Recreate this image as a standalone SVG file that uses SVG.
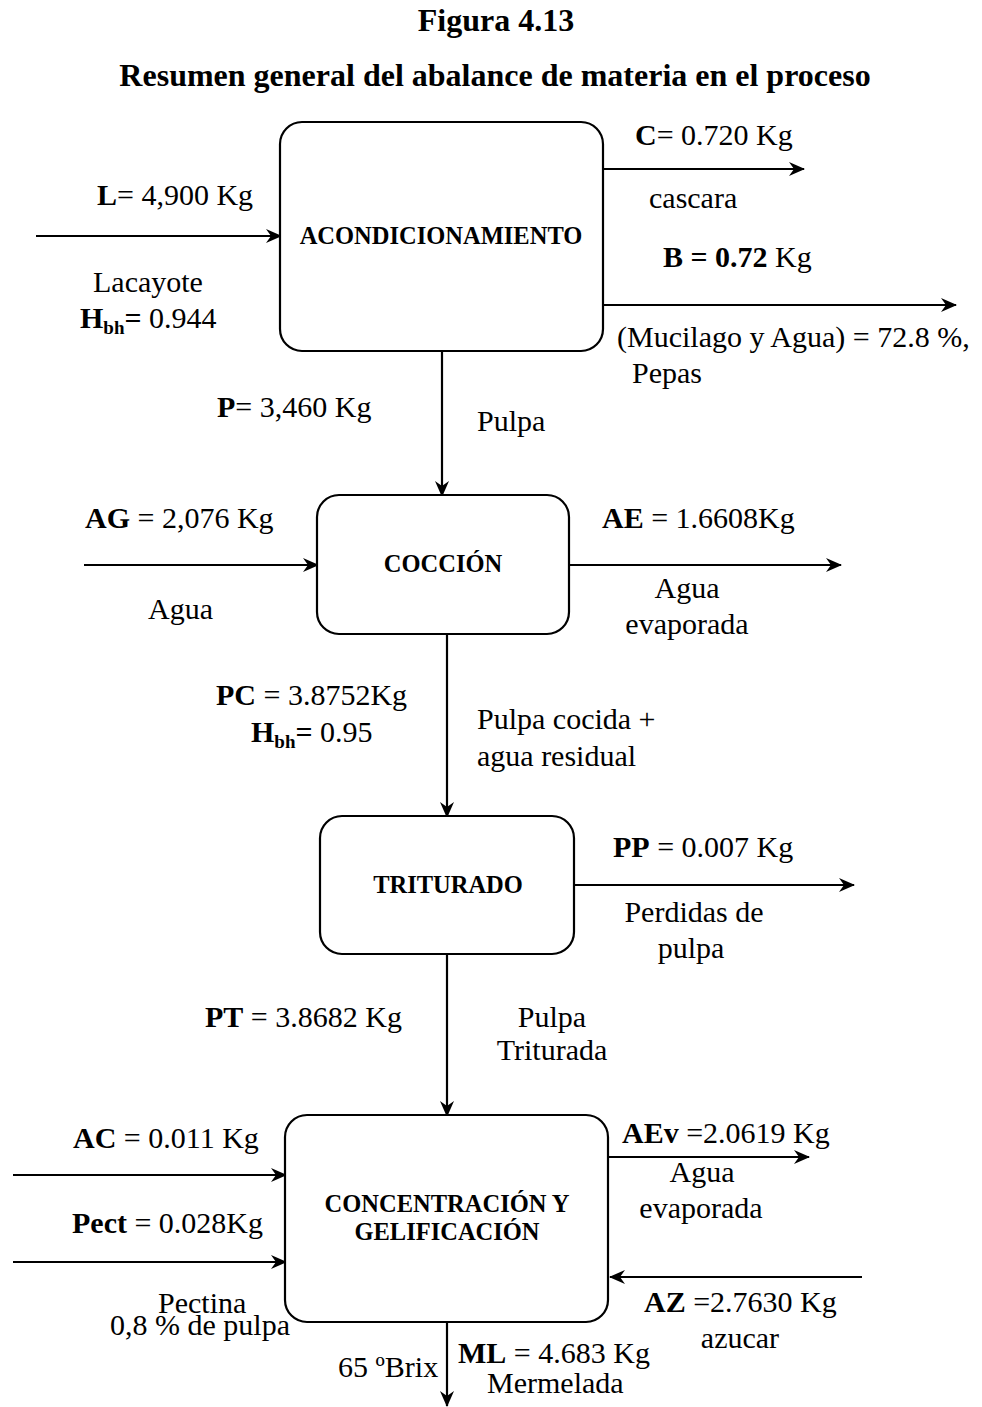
<svg xmlns="http://www.w3.org/2000/svg" width="982" height="1407" viewBox="0 0 982 1407">
<defs>
<marker id="ah" markerUnits="userSpaceOnUse" markerWidth="16" markerHeight="14" refX="15" refY="7" orient="auto">
<path d="M0,0 L16,7 L0,14 L5,7 z" fill="#000"/>
</marker>
<style>
text{font-family:"Liberation Serif","Times New Roman",serif;fill:#000;font-size:30px}
.b{font-weight:bold}
.t{font-weight:bold;font-size:32px}
.box{fill:#fff;stroke:#000;stroke-width:2.2}
.lbl{font-weight:bold;font-size:24.5px;text-anchor:middle}
.c{stroke:#000;stroke-width:2.2;fill:none;marker-end:url(#ah)}
.sub{font-size:19px;font-weight:bold}
</style>
</defs>
<rect width="982" height="1407" fill="#fff"/>
<g id="title">
<text class="t" x="496" y="31" text-anchor="middle">Figura 4.13</text>
<text class="t" x="495" y="86" text-anchor="middle">Resumen general del abalance de materia en el proceso</text>
</g>
<g id="connectors">
<line class="c" x1="36" y1="236" x2="281" y2="236"/>
<line class="c" x1="603" y1="169" x2="804" y2="169"/>
<line class="c" x1="603" y1="305" x2="956" y2="305"/>
<line class="c" x1="442" y1="351" x2="442" y2="496"/>
<line class="c" x1="84" y1="565" x2="318" y2="565"/>
<line class="c" x1="569" y1="565" x2="841" y2="565"/>
<line class="c" x1="447" y1="634" x2="447" y2="817"/>
<line class="c" x1="574" y1="885" x2="854" y2="885"/>
<line class="c" x1="447" y1="954" x2="447" y2="1116"/>
<line class="c" x1="13" y1="1175" x2="286" y2="1175"/>
<line class="c" x1="13" y1="1262" x2="286" y2="1262"/>
<line class="c" x1="608" y1="1157" x2="809" y2="1157"/>
<line class="c" x1="862" y1="1277" x2="610" y2="1277"/>
<line class="c" x1="447" y1="1322" x2="447" y2="1406"/>
</g>
<g id="acondicionamiento">
<rect class="box" x="280" y="122" width="323" height="229" rx="22"/>
<text class="lbl" x="441" y="244">ACONDICIONAMIENTO</text>
</g>
<g id="coccion">
<rect class="box" x="317" y="495" width="252" height="139" rx="22"/>
<text class="lbl" x="443" y="572">COCCIÓN</text>
</g>
<g id="triturado">
<rect class="box" x="320" y="816" width="254" height="138" rx="22"/>
<text class="lbl" x="448" y="893">TRITURADO</text>
</g>
<g id="concentracion">
<rect class="box" x="285" y="1115" width="323" height="207" rx="22"/>
<text class="lbl" x="447" y="1212">CONCENTRACIÓN Y</text>
<text class="lbl" x="447" y="1240">GELIFICACIÓN</text>
</g>
<g id="labels">
<text x="97" y="205"><tspan class="b">L</tspan>= 4,900 Kg</text>
<text x="93" y="292">Lacayote</text>
<text x="80" y="328"><tspan class="b">H</tspan><tspan class="sub" dy="6">bh</tspan><tspan dy="-6" class="b">=</tspan> 0.944</text>
<text x="635" y="145"><tspan class="b">C</tspan>= 0.720 Kg</text>
<text x="649" y="208">cascara</text>
<text x="663" y="267"><tspan class="b">B = 0.72</tspan> Kg</text>
<text x="617" y="347">(Mucilago y Agua) = 72.8 %,</text>
<text x="632" y="383">Pepas</text>
<text x="217" y="417"><tspan class="b">P</tspan>= 3,460 Kg</text>
<text x="477" y="431">Pulpa</text>
<text x="85" y="528"><tspan class="b">AG</tspan> = 2,076 Kg</text>
<text x="148" y="619">Agua</text>
<text x="602" y="528"><tspan class="b">AE</tspan> = 1.6608Kg</text>
<text x="687" y="598" text-anchor="middle">Agua</text>
<text x="687" y="634" text-anchor="middle">evaporada</text>
<text x="216" y="705"><tspan class="b">PC</tspan> = 3.8752Kg</text>
<text x="251" y="742"><tspan class="b">H</tspan><tspan class="sub" dy="6">bh</tspan><tspan dy="-6" class="b">=</tspan> 0.95</text>
<text x="477" y="729">Pulpa cocida +</text>
<text x="477" y="766">agua residual</text>
<text x="613" y="857"><tspan class="b">PP</tspan> = 0.007 Kg</text>
<text x="694" y="922" text-anchor="middle">Perdidas de</text>
<text x="691" y="958" text-anchor="middle">pulpa</text>
<text x="205" y="1027"><tspan class="b">PT</tspan> = 3.8682 Kg</text>
<text x="552" y="1027" text-anchor="middle">Pulpa</text>
<text x="552" y="1060" text-anchor="middle">Triturada</text>
<text x="73" y="1148"><tspan class="b">AC</tspan> = 0.011 Kg</text>
<text x="72" y="1233"><tspan class="b">Pect</tspan> = 0.028Kg</text>
<text x="158" y="1313">Pectina</text>
<text x="110" y="1335">0,8 % de pulpa</text>
<text x="622" y="1143"><tspan class="b">AEv</tspan> =2.0619 Kg</text>
<text x="702" y="1182" text-anchor="middle">Agua</text>
<text x="701" y="1218" text-anchor="middle">evaporada</text>
<text x="644" y="1312"><tspan class="b">AZ</tspan> =2.7630 Kg</text>
<text x="740" y="1348" text-anchor="middle">azucar</text>
<text x="338" y="1377">65 ºBrix</text>
<text x="458" y="1363"><tspan class="b">ML</tspan> = 4.683 Kg</text>
<text x="487" y="1393">Mermelada</text>
</g>
</svg>
